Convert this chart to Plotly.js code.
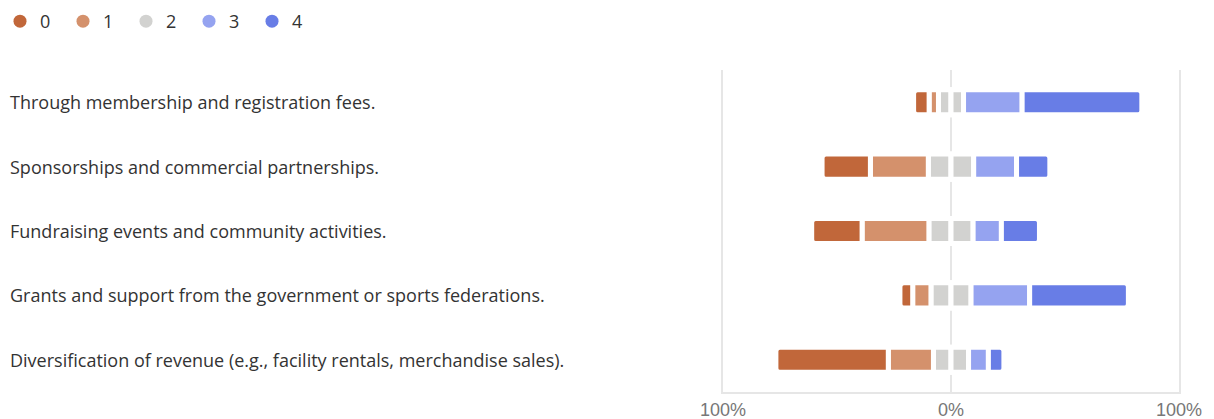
<!DOCTYPE html>
<html>
<head>
<meta charset="utf-8">
<script src="https://cdn.plot.ly/plotly-3.0.1.min.js"></script>
<style>html,body{margin:0;padding:0;background:#fff;}#chart{width:1214px;height:419px;}</style>
</head>
<body>
<div id="chart"></div>
<script>
var categories = [
  "Through membership and registration fees.",
  "Sponsorships and commercial partnerships.",
  "Fundraising events and community activities.",
  "Grants and support from the government or sports federations.",
  "Diversification of revenue (e.g., facility rentals, merchandise sales)."
];
var levels = ["0", "1", "2", "3", "4"];
var pct0 = [6.8, 21.2, 22.1, 5.6, 49.3];
var pct1 = [4.1, 25.4, 29.3, 8.0, 19.8];
var pct2 = [11.0, 19.9, 19.4, 17.6, 15.4];
var pct3 = [25.7, 18.8, 12.4, 25.7, 8.7];
var pct4 = [52.5, 14.6, 16.7, 43.3, 6.8];
var colors = ["#c1673a", "#d4916c", "#d2d2d0", "#95a3f0", "#687de6"];
var tickVals = [-100, 0, 100];
var tickText = ["100%", "0%", "100%"];

function neg(a){ return a.map(function(v){ return -v; }); }
function half(a, s){ return a.map(function(v){ return s * v / 2; }); }

function bar(x, color){
  return {
    type: "bar", orientation: "h", y: categories, x: x,
    marker: {color: color, line: {color: "#ffffff", width: 5}},
    width: 0.39, showlegend: false, hoverinfo: "skip"
  };
}

var traces = [
  bar(half(pct2, -1), colors[2]),
  bar(half(pct2, 1), colors[2]),
  bar(neg(pct1), colors[1]),
  bar(pct3, colors[3]),
  bar(neg(pct0), colors[0]),
  bar(pct4, colors[4])
];
levels.forEach(function(l, i){
  traces.push({
    type: "scatter", mode: "markers", x: [null], y: [null], name: l,
    marker: {color: colors[i], size: 13, symbol: "circle"}, showlegend: true
  });
});

var annotations = categories.map(function(c){
  return {
    text: c, xref: "paper", yref: "y", x: (8 - 723) / 456, y: c,
    xanchor: "left", yanchor: "middle", showarrow: false,
    font: {family: "Open Sans, sans-serif", size: 18, color: "#333333"}
  };
});

var layout = {
  width: 1214, height: 419,
  margin: {l: 723, r: 35, t: 70, b: 27, pad: 0},
  paper_bgcolor: "#ffffff", plot_bgcolor: "#ffffff",
  barmode: "relative", barcornerradius: 4,
  showlegend: true,
  legend: {
    orientation: "h", xref: "container", yref: "container",
    x: 0, y: 1 - 3 / 419, xanchor: "left", yanchor: "top",
    font: {family: "Open Sans, sans-serif", size: 18, color: "#333333"},
    entrywidth: 18, traceorder: "normal"
  },
  xaxis: {
    range: [-100, 100], tickvals: tickVals, ticktext: tickText,
    showgrid: true, gridcolor: "#e6e6e6", gridwidth: 2,
    zeroline: true, zerolinecolor: "#e6e6e6", zerolinewidth: 2,
    showline: true, linecolor: "#e6e6e6", linewidth: 2,
    layer: "above traces", ticks: "",
    tickfont: {family: "Liberation Sans, Arial, sans-serif", size: 18, color: "#777777"},
    fixedrange: true
  },
  yaxis: {
    autorange: "reversed", showticklabels: false, showgrid: false,
    zeroline: false, showline: true, mirror: true, linecolor: "#e6e6e6", linewidth: 2,
    ticks: "", fixedrange: true
  },
  annotations: annotations
};

Plotly.newPlot("chart", traces, layout, {displayModeBar: false, staticPlot: true});
</script>
</body>
</html>
